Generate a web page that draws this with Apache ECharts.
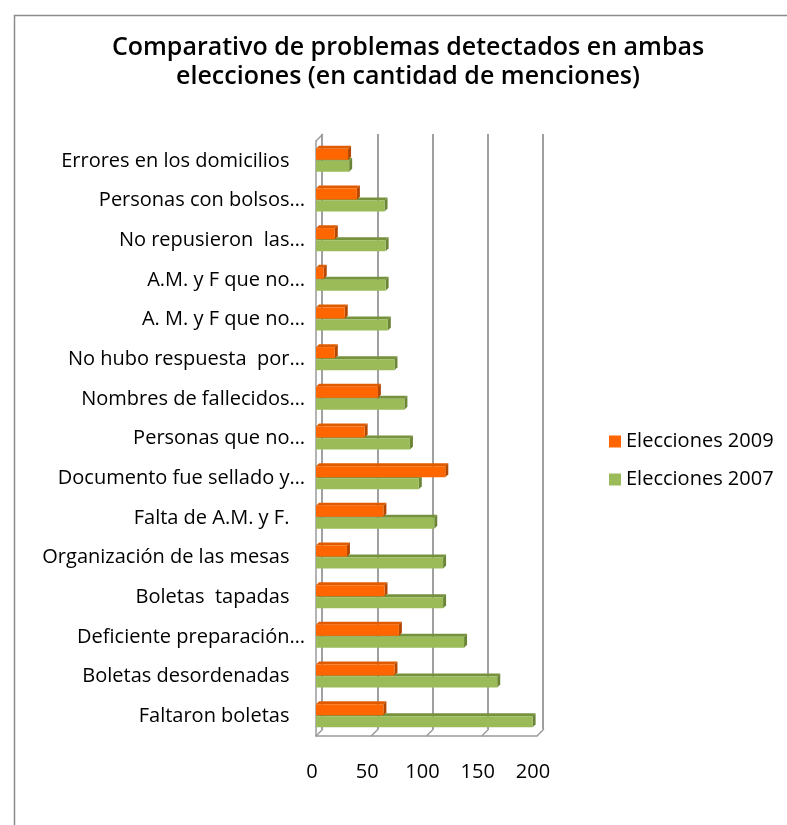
<!DOCTYPE html>
<html>
<head>
<meta charset="utf-8">
<script src="https://cdn.jsdelivr.net/npm/echarts@6/dist/echarts.min.js"></script>
<style>
  html, body { margin: 0; padding: 0; background: #fff; }
  #container { width: 787px; height: 825px; }
</style>
</head>
<body>
<div id="container"></div>
<script>
var categories = [
  'Errores en los domicilios   ',
  'Personas con bolsos…',
  'No repusieron  las…',
  'A.M. y F que no…',
  'A. M. y F que no…',
  'No hubo respuesta  por…',
  'Nombres de fallecidos…',
  'Personas que no…',
  'Documento fue sellado y…',
  'Falta de A.M. y F.   ',
  'Organización de las mesas   ',
  'Boletas  tapadas   ',
  'Deficiente preparación…',
  'Boletas desordenadas   ',
  'Faltaron boletas   '
];
var elecciones2009 = [29, 37, 17, 7, 26, 17, 56, 44, 117, 61, 28, 62, 75, 71, 61];
var elecciones2007 = [30, 62, 63, 63, 65, 71, 80, 85, 93, 107, 115, 115, 134, 164, 196];
var xTicks = [0, 50, 100, 150, 200];

var FONT = 'Open Sans';
var DEPTH = 3;

function toPairs(arr) {
  return arr.map(function(v, i) { return [v, i]; });
}

// barra con cara superior y lateral (efecto 3D)
function bar3d(y0off, y1off, front, topc, side) {
  return function(params, api) {
    var val = api.value(0), cat = api.value(1);
    var p0 = api.coord([0, cat]);
    var p1 = api.coord([val, cat]);
    var x0 = p0[0], x1 = p1[0], c = p0[1];
    var y0 = c + y0off, y1 = c + y1off, d = DEPTH;
    return {
      type: 'group',
      children: [
        { type: 'polygon', shape: { points: [[x0, y0], [x0 + d, y0 - d], [x1 + d, y0 - d], [x1, y0]] }, style: { fill: topc } },
        { type: 'polygon', shape: { points: [[x1, y0], [x1 + d, y0 - d], [x1 + d, y1 - d], [x1, y1]] }, style: { fill: side } },
        { type: 'rect', shape: { x: x0, y: y0, width: x1 - x0, height: y1 - y0 }, style: { fill: front } }
      ]
    };
  };
}

// lineas del piso y pared izquierda
function frame(params, api) {
  var cs = params.coordSys;
  var bottom = cs.y + cs.height, off = 7;
  var kids = [];
  var st = { stroke: '#9a9a9a', lineWidth: 1.5 };
  kids.push({ type: 'line', shape: { x1: cs.x, y1: cs.y, x2: cs.x + off, y2: cs.y - off }, style: st });
  xTicks.forEach(function(v) {
    var x = api.coord([v, 0])[0];
    kids.push({ type: 'line', shape: { x1: x, y1: bottom, x2: x + off, y2: bottom - off }, style: st });
  });
  return { type: 'group', children: kids };
}

var option = {
  animation: false,
  backgroundColor: '#fff',
  graphic: [{
    type: 'rect', left: 12, top: 13, silent: true,
    shape: { width: 820, height: 840 },
    style: { fill: 'none', stroke: '#8c8c8c', lineWidth: 1.5 }
  }],
  title: {
    text: 'Comparativo de problemas detectados en ambas\nelecciones (en cantidad de menciones)',
    left: 403,
    top: 28,
    textAlign: 'center',
    textStyle: {
      fontFamily: FONT,
      fontWeight: 600,
      fontSize: 25,
      lineHeight: 29,
      color: '#000'
    }
  },
  legend: {
    data: ['Elecciones 2009', 'Elecciones 2007'],
    orient: 'vertical',
    left: 604,
    top: 423,
    itemWidth: 12,
    itemHeight: 12,
    itemGap: 11,
    icon: 'rect',
    textStyle: { fontFamily: FONT, fontSize: 20, color: '#000', lineHeight: 27 }
  },
  grid: [
    { left: 316, top: 141, width: 221, height: 595 },
    { left: 322, top: 134, width: 221, height: 595 }
  ],
  xAxis: [{
    type: 'value', gridIndex: 0, min: 0, max: 200, interval: 50,
    axisLine: { show: true, lineStyle: { color: '#9a9a9a', width: 1.5 } },
    axisTick: { show: false },
    splitLine: { show: false },
    axisLabel: { fontFamily: FONT, fontSize: 20, color: '#000', margin: 26, padding: [0, 8, 0, 0] }
  }, {
    type: 'value', gridIndex: 1, min: 0, max: 200, interval: 50,
    axisLine: { show: false },
    axisTick: { show: false },
    axisLabel: { show: false },
    splitLine: { show: true, lineStyle: { color: '#a0a0a0', width: 2 } }
  }],
  yAxis: [{
    type: 'category', gridIndex: 0, data: categories, inverse: true,
    axisLine: { show: true, lineStyle: { color: '#9a9a9a', width: 1.5 } },
    axisTick: { show: false },
    axisLabel: { fontFamily: FONT, fontSize: 20, color: '#000', margin: 11 }
  }, {
    type: 'category', gridIndex: 1, data: categories, inverse: true, show: false
  }],
  series: [{
    name: 'Elecciones 2007',
    type: 'custom',
    xAxisIndex: 0, yAxisIndex: 0,
    itemStyle: { color: '#9BBB59' },
    renderItem: bar3d(0, 11, '#9BBB59', '#76923C', '#6A8535'),
    encode: { x: 0, y: 1 },
    data: toPairs(elecciones2007),
    z: 3
  }, {
    name: 'Elecciones 2009',
    type: 'custom',
    xAxisIndex: 0, yAxisIndex: 0,
    itemStyle: { color: '#FF6600' },
    renderItem: bar3d(-12, -1, '#FF6600', '#E05A00', '#B34700'),
    encode: { x: 0, y: 1 },
    data: toPairs(elecciones2009),
    z: 4
  }, {
    name: 'marco',
    type: 'custom',
    xAxisIndex: 0, yAxisIndex: 0,
    silent: true,
    renderItem: frame,
    data: [[0, 0]],
    z: 1
  }]
};

var myChart = echarts.init(document.getElementById('container'));
myChart.setOption(option);
</script>
</body>
</html>
